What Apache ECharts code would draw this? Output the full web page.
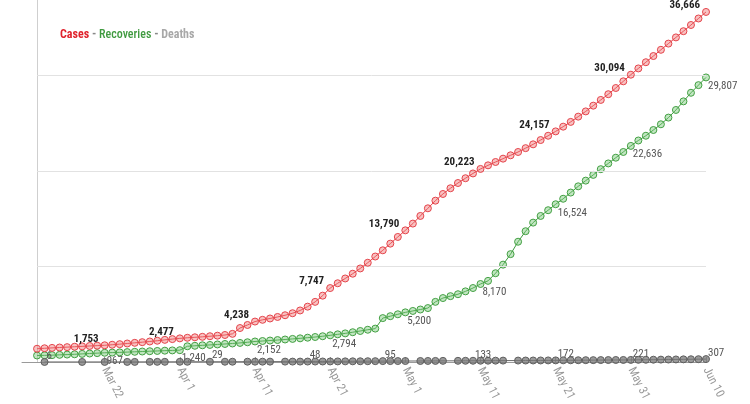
<!DOCTYPE html>
<html>
<head>
<meta charset="utf-8">
<script src="https://cdn.jsdelivr.net/npm/echarts@6/dist/echarts.min.js"></script>
<style>
  html, body { margin: 0; padding: 0; background: #fff; }
  #chart { width: 750px; height: 404px; }
</style>
</head>
<body>
<div id="chart"></div>
<script>
const categories = [
  'Mar 11','Mar 12','Mar 13','Mar 14','Mar 15','Mar 16','Mar 17','Mar 18','Mar 19','Mar 20','Mar 21',
  'Mar 22','Mar 23','Mar 24','Mar 25','Mar 26','Mar 27','Mar 28','Mar 29','Mar 30','Mar 31',
  'Apr 1','Apr 2','Apr 3','Apr 4','Apr 5','Apr 6','Apr 7','Apr 8','Apr 9','Apr 10',
  'Apr 11','Apr 12','Apr 13','Apr 14','Apr 15','Apr 16','Apr 17','Apr 18','Apr 19','Apr 20',
  'Apr 21','Apr 22','Apr 23','Apr 24','Apr 25','Apr 26','Apr 27','Apr 28','Apr 29','Apr 30',
  'May 1','May 2','May 3','May 4','May 5','May 6','May 7','May 8','May 9','May 10',
  'May 11','May 12','May 13','May 14','May 15','May 16','May 17','May 18','May 19','May 20',
  'May 21','May 22','May 23','May 24','May 25','May 26','May 27','May 28','May 29','May 30',
  'May 31','Jun 1','Jun 2','Jun 3','Jun 4','Jun 5','Jun 6','Jun 7','Jun 8','Jun 9','Jun 10'
];
const tickLabels = ['Mar 22','Apr 1','Apr 11','Apr 21','May 1','May 11','May 21','May 31','Jun 10'];
const gridValues = [10000, 20000, 30000];

// Cases and recoveries: daily from Mar 13 to Jun 10
const dailyStart = 'Mar 13';
const cases = [
  1390,1440,1480,1520,1560,1600,1640,1680,1715,1753,
  1810,1870,1940,2010,2080,2150,2230,2320,2400,2477,
  2540,2590,2640,2700,2760,2830,2950,3560,3880,4238,
  4420,4560,4720,4900,5110,5400,5800,6300,6950,7747,
  8250,8750,9250,9800,10400,11050,11700,12400,13100,13790,
  14500,15300,16100,16900,17600,18200,18750,19250,19750,20223,
  20600,20950,21300,21650,22000,22400,22800,23250,23700,24157,
  24650,25150,25700,26250,26850,27450,28050,28700,29400,30094,
  30750,31400,32050,32700,33350,34000,34650,35300,35980,36666
];
const recoveries = [
  680,700,720,750,780,810,850,890,930,967,
  990,1010,1040,1070,1100,1130,1160,1190,1215,1240,
  1650,1700,1750,1790,1840,1890,1940,2000,2070,2152,
  2200,2250,2300,2360,2420,2480,2550,2620,2700,2794,
  2900,3000,3120,3250,3380,3500,4600,4800,5000,5200,
  5350,5500,5650,6300,6700,6900,7100,7400,7750,8170,
  8500,9300,10200,11300,12600,13700,14600,15300,15900,16524,
  17100,17750,18400,19000,19600,20200,20800,21400,22000,22636,
  23200,23700,24300,24900,25600,26400,27300,28200,29000,29807
];
// Deaths: reported on these dates only
const deathDates = [
  'Mar 14','Mar 19','Mar 22','Mar 25','Mar 26','Mar 28','Mar 29','Mar 30','Apr 1','Apr 2',
  'Apr 5','Apr 7','Apr 8','Apr 10','Apr 11','Apr 12','Apr 13','Apr 15','Apr 16','Apr 17',
  'Apr 18','Apr 19','Apr 20','Apr 21','Apr 22','Apr 23','Apr 24','Apr 25','Apr 26','Apr 27',
  'Apr 28','Apr 29','Apr 30','May 1','May 3','May 4','May 5','May 6','May 8','May 9',
  'May 10','May 11','May 12','May 13','May 14','May 16','May 17','May 18','May 19','May 20',
  'May 21','May 22','May 23','May 24','May 25','May 26','May 27','May 28','May 29','May 30',
  'May 31','Jun 1','Jun 2','Jun 3','Jun 4','Jun 5','Jun 6','Jun 7','Jun 8','Jun 9','Jun 10'
];
const deaths = [
  6,8,10,12,14,17,19,21,24,26,
  29,31,33,35,36,38,40,42,44,46,
  48,51,55,59,63,68,73,79,84,90,
  95,98,101,104,108,112,116,120,125,129,
  133,136,140,144,148,152,156,160,164,168,
  172,177,182,187,192,197,202,207,212,216,
  221,228,236,244,252,260,270,280,289,298,307
];

const FONT = "'Roboto Condensed','Liberation Sans Narrow','DejaVu Sans Condensed',Roboto,sans-serif";
const startIdx = categories.indexOf(dailyStart);
const dailyDates = categories.slice(startIdx);
const lastDate = categories[categories.length - 1];

function build(dates, values) {
  const n = values.length;
  return values.map((v, i) => ({
    value: [dates[i], v],
    label: { show: (n - 1 - i) % 10 === 0 }
  }));
}
const fmt = p => Number(p.value[1]).toLocaleString('en-US');
const showTick = (idx, val) => tickLabels.indexOf(val) >= 0;

const chart = echarts.init(document.getElementById('chart'), null, { renderer: 'canvas' });
chart.setOption({
  animation: false,
  backgroundColor: '#fff',
  textStyle: { fontFamily: FONT },
  title: {
    left: 55, top: 24,
    text: '{a|Cases} {s|-} {b|Recoveries} {s|-} {c|Deaths}',
    textStyle: {
      fontFamily: FONT, fontSize: 12,
      rich: {
        a: { color: '#e0232d', fontWeight: 'bold', fontFamily: FONT, fontSize: 12 },
        b: { color: '#3f9a3f', fontWeight: 500, fontFamily: FONT, fontSize: 12 },
        c: { color: '#a8a8a8', fontFamily: FONT, fontSize: 12 },
        s: { color: '#888', fontFamily: FONT, fontSize: 12 }
      }
    }
  },
  grid: { left: 22, right: 44, top: 0, bottom: 40, containLabel: false },
  xAxis: {
    type: 'category',
    data: categories,
    boundaryGap: false,
    axisLine: { lineStyle: { color: '#9a9a9a', width: 1 } },
    axisTick: { show: true, inside: true, length: 5, interval: showTick, lineStyle: { color: '#9a9a9a' } },
    axisLabel: { interval: showTick, rotate: -63, color: '#999', fontSize: 12, fontFamily: FONT, margin: 6 },
    splitLine: { show: false }
  },
  yAxis: {
    type: 'value',
    min: 0, max: 37917,
    offset: -15,
    axisLine: { show: true, lineStyle: { color: '#cfcfcf' } },
    axisTick: { show: false },
    axisLabel: { show: false },
    splitLine: { show: false }
  },
  series: [
    {
      name: 'Deaths', type: 'line', z: 6,
      data: build(deathDates, deaths),
      label: { position: 'right', distance: 0, offset: [-2, -6], color: '#555', fontSize: 11, fontFamily: FONT, formatter: fmt },
      showAllSymbol: true, symbol: 'circle', symbolSize: 7,
      lineStyle: { color: '#6a6a6a', width: 1 },
      itemStyle: { color: 'rgba(120,120,120,0.75)', borderColor: '#5f5f5f', borderWidth: 1 },
      markLine: {
        silent: true, symbol: 'none', label: { show: false },
        lineStyle: { color: '#e2e2e2', width: 1, type: 'solid' },
        data: gridValues.map(g => [{ coord: [dailyStart, g] }, { coord: [lastDate, g] }])
      }
    },
    {
      name: 'Recoveries', type: 'line', z: 4,
      data: build(dailyDates, recoveries),
      label: { position: 'bottom', align: 'left', distance: 0, offset: [2, -1], color: '#555', fontSize: 11, fontFamily: FONT, formatter: fmt },
      showAllSymbol: true, symbol: 'circle', symbolSize: 7,
      lineStyle: { color: '#3e9b3e', width: 1 },
      itemStyle: { color: 'rgba(120,200,120,0.45)', borderColor: '#43a043', borderWidth: 1 }
    },
    {
      name: 'Cases', type: 'line', z: 5,
      data: build(dailyDates, cases),
      label: { position: 'top', align: 'right', distance: 0, offset: [-6, 3], color: '#222', fontWeight: 'bold', fontSize: 11, fontFamily: FONT, formatter: fmt },
      showAllSymbol: true, symbol: 'circle', symbolSize: 7,
      lineStyle: { color: '#e53e45', width: 1 },
      itemStyle: { color: 'rgba(240,120,120,0.45)', borderColor: '#e5444b', borderWidth: 1 }
    }
  ]
});
</script>
</body>
</html>
